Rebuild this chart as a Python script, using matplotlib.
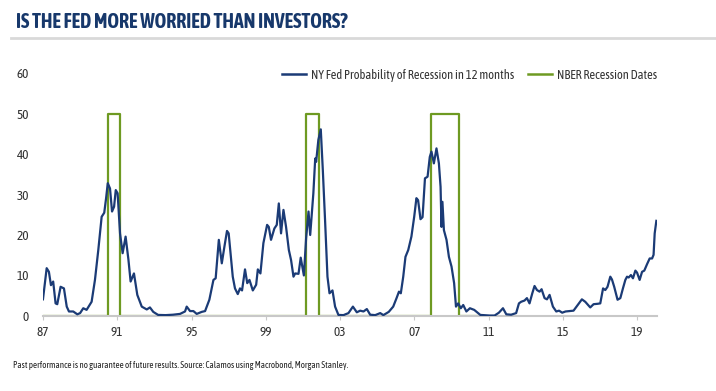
import matplotlib
matplotlib.use('Agg')
import matplotlib.pyplot as plt
from matplotlib.lines import Line2D

# NY Fed recession probability, decimal years
prob_t = [1987.00, 1987.20, 1987.32, 1987.43, 1987.55, 1987.68, 1987.77, 1987.95, 1988.13, 1988.28,
          1988.40, 1988.63, 1988.85, 1989.00, 1989.17, 1989.35, 1989.62, 1989.80, 1989.98, 1990.16,
          1990.30, 1990.40, 1990.49, 1990.61, 1990.72, 1990.83, 1990.92, 1991.02, 1991.15, 1991.29,
          1991.45, 1991.60, 1991.72, 1991.90, 1992.08, 1992.32, 1992.59, 1992.76, 1992.94, 1993.20,
          1993.60, 1994.00, 1994.38, 1994.65, 1994.74, 1994.92, 1995.10, 1995.28, 1995.55, 1995.73,
          1995.96, 1996.18, 1996.30, 1996.47, 1996.63, 1996.77, 1996.91, 1997.00, 1997.22, 1997.34,
          1997.49, 1997.61, 1997.72, 1997.88, 1998.00, 1998.12, 1998.30, 1998.48, 1998.57, 1998.71,
          1998.87, 1999.07, 1999.16, 1999.28, 1999.46, 1999.59, 1999.70, 1999.82, 1999.95, 2000.09,
          2000.24, 2000.36, 2000.49, 2000.58, 2000.76, 2000.88, 2001.05, 2001.17, 2001.30, 2001.39,
          2001.56, 2001.66, 2001.71, 2001.83, 2001.96, 2002.07, 2002.19, 2002.32, 2002.43, 2002.59,
          2002.73, 2002.91, 2003.18, 2003.45, 2003.69, 2003.90, 2004.08, 2004.26, 2004.44, 2004.62,
          2004.89, 2005.16, 2005.33, 2005.62, 2005.86, 2006.04, 2006.17, 2006.27, 2006.40, 2006.52,
          2006.67, 2006.84, 2006.99, 2007.11, 2007.20, 2007.33, 2007.44, 2007.57, 2007.71, 2007.83,
          2007.92, 2008.05, 2008.19, 2008.32, 2008.41, 2008.46, 2008.51, 2008.59, 2008.73, 2008.86,
          2009.00, 2009.14, 2009.24, 2009.36, 2009.50, 2009.63, 2009.80, 2009.99, 2010.22, 2010.40,
          2010.55, 2011.05, 2011.32, 2011.55, 2011.77, 2011.95, 2012.21, 2012.48, 2012.63, 2012.75,
          2012.93, 2013.06, 2013.20, 2013.35, 2013.47, 2013.60, 2013.74, 2013.85, 2014.01, 2014.14,
          2014.28, 2014.46, 2014.64, 2014.79, 2014.96, 2015.14, 2015.57, 2016.02, 2016.20, 2016.47,
          2016.65, 2016.87, 2017.01, 2017.16, 2017.28, 2017.40, 2017.55, 2017.64, 2017.76, 2017.94,
          2018.09, 2018.23, 2018.36, 2018.45, 2018.54, 2018.66, 2018.77, 2018.90, 2018.99, 2019.13,
          2019.26, 2019.38, 2019.53, 2019.67, 2019.80, 2019.88, 2019.94, 2020.03]
prob_v = [4.1, 11.8, 10.9, 7.6, 8.5, 3.1, 2.9, 7.2, 6.8, 2.3,
          1.1, 1.1, 0.4, 0.7, 1.9, 1.5, 3.5, 8.9, 16.3, 24.5,
          25.5, 29.1, 32.8, 31.5, 25.8, 27.0, 31.1, 30.3, 20.4, 15.5,
          19.6, 14.0, 8.5, 10.5, 5.2, 2.3, 1.6, 2.1, 1.0, 0.25,
          0.2, 0.3, 0.5, 1.1, 2.3, 1.2, 1.2, 0.5, 1.0, 1.2,
          4.0, 8.9, 9.3, 18.8, 13.0, 17.1, 21.0, 20.4, 9.7, 6.8,
          5.4, 6.8, 6.3, 11.5, 8.1, 8.9, 6.3, 7.7, 11.5, 10.5,
          18.0, 22.5, 22.0, 18.8, 21.6, 22.5, 27.8, 20.4, 26.2, 22.0,
          16.3, 13.8, 9.7, 10.5, 10.4, 14.4, 10.0, 19.2, 25.8, 20.0,
          30.3, 38.9, 38.1, 43.5, 46.1, 36.0, 23.7, 9.7, 5.6, 6.3,
          2.3, 0.25, 0.2, 0.7, 2.3, 0.9, 1.3, 1.1, 1.7, 0.3,
          0.2, 0.7, 0.2, 1.0, 2.3, 4.4, 6.0, 5.6, 9.7, 14.6,
          16.3, 19.6, 24.5, 29.1, 28.6, 23.9, 24.4, 34.0, 34.4, 39.3,
          40.6, 37.7, 41.4, 37.7, 31.9, 22.0, 28.2, 21.2, 18.8, 14.6,
          12.2, 8.1, 2.3, 3.1, 1.9, 2.7, 1.1, 1.9, 1.5, 0.8,
          0.25, 0.1, 0.1, 0.8, 1.9, 0.4, 0.3, 0.7, 3.1, 3.5,
          3.8, 4.4, 3.1, 5.6, 7.4, 6.4, 6.0, 6.6, 4.4, 4.1,
          5.2, 2.3, 1.1, 1.3, 0.8, 1.1, 1.3, 4.1, 3.5, 2.1,
          2.9, 3.0, 3.1, 6.8, 6.4, 7.2, 9.7, 9.0, 7.2, 4.0,
          4.4, 6.8, 8.9, 9.7, 9.5, 10.1, 9.3, 11.2, 10.7, 8.9,
          10.9, 11.2, 12.8, 14.2, 14.2, 15.1, 20.4, 23.5]

# NBER recessions (start, end), series drawn at 50 during recession, 0 otherwise
rec_start = [1990.5, 2001.17, 2007.92]
rec_end = [1991.17, 2001.87, 2009.42]
rec_first, rec_last = 1987.0, 2010.5
rec_level = 50

x_ticks = [1987, 1991, 1995, 1999, 2003, 2007, 2011, 2015, 2019]
x_labels = ['87', '91', '95', '99', '03', '07', '11', '15', '19']
y_ticks = [0, 10, 20, 30, 40, 50, 60]

blue = '#1b3b76'
green = '#6e9a22'
navy_title = '#17386b'
txt = '#333333'
font = ['Asap Condensed', 'Archivo Narrow', 'DejaVu Sans']

# build the step series for recessions
rec_t = [rec_first]
rec_v = [0]
for s, e in zip(rec_start, rec_end):
    rec_t += [s, s, e, e]
    rec_v += [0, rec_level, rec_level, 0]
rec_t.append(rec_last)
rec_v.append(0)

fig = plt.figure(figsize=(7.16, 3.91), dpi=100)
ax = fig.add_axes([0.060, 0.192, 0.858, 0.621])

ax.plot(prob_t, prob_v, color=blue, lw=1.6, zorder=3)
ax.plot(rec_t, rec_v, color=green, lw=1.6, zorder=2)

ax.set_xlim(1987, 2020.08)
ax.set_ylim(0, 60)
ax.set_xticks(x_ticks)
ax.set_xticklabels(x_labels)
ax.set_yticks(y_ticks)

for side in ['top', 'right', 'left']:
    ax.spines[side].set_visible(False)
ax.spines['bottom'].set_color('#c8c8c8')
ax.spines['bottom'].set_linewidth(1.5)
ax.tick_params(axis='y', length=0, pad=10, labelsize=9.5, labelcolor=txt)
ax.tick_params(axis='x', length=3, width=0.8, color='#c8c8c8', pad=4,
               labelsize=9.5, labelcolor=txt)
for lab in ax.get_xticklabels() + ax.get_yticklabels():
    lab.set_family(font)

# legend
handles = [Line2D([], [], color=blue, lw=1.8), Line2D([], [], color=green, lw=1.8)]
leg = ax.legend(handles, ['NY Fed Probability of Recession in 12 months', 'NBER Recession Dates'],
                loc='upper right', bbox_to_anchor=(1.018, 1.065), ncol=2, frameon=False,
                handlelength=1.9, handletextpad=0.4, columnspacing=1.15,
                prop={'family': font, 'size': 9})
for t in leg.get_texts():
    t.set_color(txt)

# title + rule
fig.text(0.022, 0.945, 'IS THE FED MORE WORRIED THAN INVESTORS?', fontsize=14.3,
         fontweight='bold', color=navy_title, family=font, va='center', ha='left')
fig.add_artist(Line2D([0.015, 1.0], [0.903, 0.903], color='#d9d9d9', lw=2))

# footer
fig.text(0.018, 0.064, 'Past performance is no guarantee of future results. Source: Calamos using Macrobond, Morgan Stanley.',
         fontsize=6.5, color='#222222', family=font, va='center', ha='left')

plt.savefig('out.png', dpi=100)
